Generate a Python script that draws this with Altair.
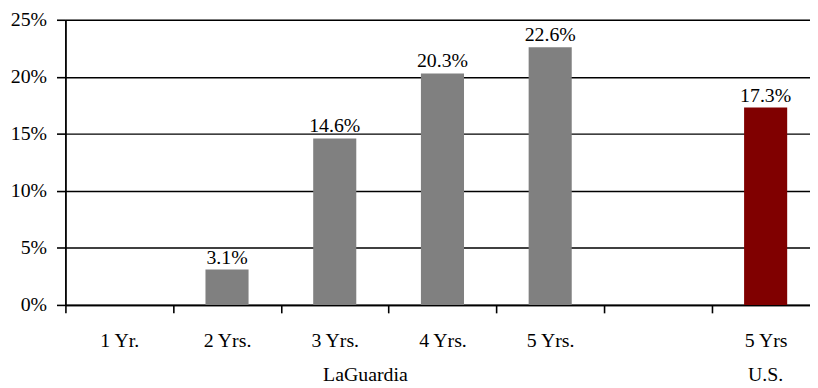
import altair as alt
import pandas as pd

keys = ["1 Yr.", "2 Yrs.", "3 Yrs.", "4 Yrs.", "5 Yrs.", " ", "5 Yrs"]
values = [None, 3.1, 14.6, 20.3, 22.6, None, 17.3]
groups = ["LaGuardia", "LaGuardia", "LaGuardia", "LaGuardia", "LaGuardia", "LaGuardia", "U.S."]
group_names = ["LaGuardia", "U.S."]
group_anchor = ["3 Yrs.", "5 Yrs"]
group_colors = ["#808080", "#800000"]
y_ticks = [0, 0.05, 0.10, 0.15, 0.20, 0.25]

rows = []
for k, v, g in zip(keys, values, groups):
    rows.append({
        "key": k,
        "value": None if v is None else v / 100.0,
        "label": "" if v is None else f"{v:.1f}%",
        "group": g,
    })
df = pd.DataFrame(rows)
gdf = pd.DataFrame({"group": group_names, "key": group_anchor})

FONT = "Times New Roman, Liberation Serif, serif"

x = alt.X(
    "key:N",
    sort=keys,
    scale=alt.Scale(domain=keys, range=[0, 761.6], paddingInner=0, paddingOuter=0),
    axis=alt.Axis(
        title=None, tickBand="extent", tickSize=8, tickWidth=1.6, tickColor="black",
        domainColor="black", domainWidth=1.8, labelFont=FONT, labelFontSize=20,
        labelColor="black", labelAngle=0, labelPadding=18, grid=False,
    ),
)
y = alt.Y(
    "value:Q",
    scale=alt.Scale(domain=[0, 0.25], nice=False),
    axis=alt.Axis(
        title=None, values=y_ticks, format=".0%", tickSize=9, tickWidth=1.6,
        tickColor="black", domainColor="black", domainWidth=1.8, grid=True,
        gridColor="black", gridWidth=1.5, gridOpacity=1, labelFont=FONT,
        labelFontSize=20, labelColor="black", labelPadding=10,
    ),
)

bars = alt.Chart(df).mark_bar(width=alt.RelativeBandSize(0.4)).encode(
    x=x,
    y=y,
    color=alt.Color("group:N", scale=alt.Scale(domain=group_names, range=group_colors), legend=None),
)

labels = alt.Chart(df).mark_text(
    font=FONT, fontSize=20, color="black", baseline="alphabetic", dy=-6
).encode(x=x, y=y, text="label:N")

glab_la = alt.Chart(gdf[gdf.group == "LaGuardia"]).mark_text(
    font=FONT, fontSize=20, color="black", baseline="middle", dx=31
).encode(x=x, y=alt.value(359), text="group:N")

glab_us = alt.Chart(gdf[gdf.group == "U.S."]).mark_text(
    font=FONT, fontSize=20, color="black", baseline="middle"
).encode(x=x, y=alt.value(359), text="group:N")

chart = alt.layer(bars, labels, glab_la, glab_us).properties(
    width=752, height=288,
    autosize=alt.AutoSizeParams(type="none"),
    padding={"left": 58, "top": 10, "right": 0, "bottom": 80},
).configure_view(stroke=None).configure(background="white")

chart.save("out.html", embed_options={"renderer": "svg", "actions": False})
